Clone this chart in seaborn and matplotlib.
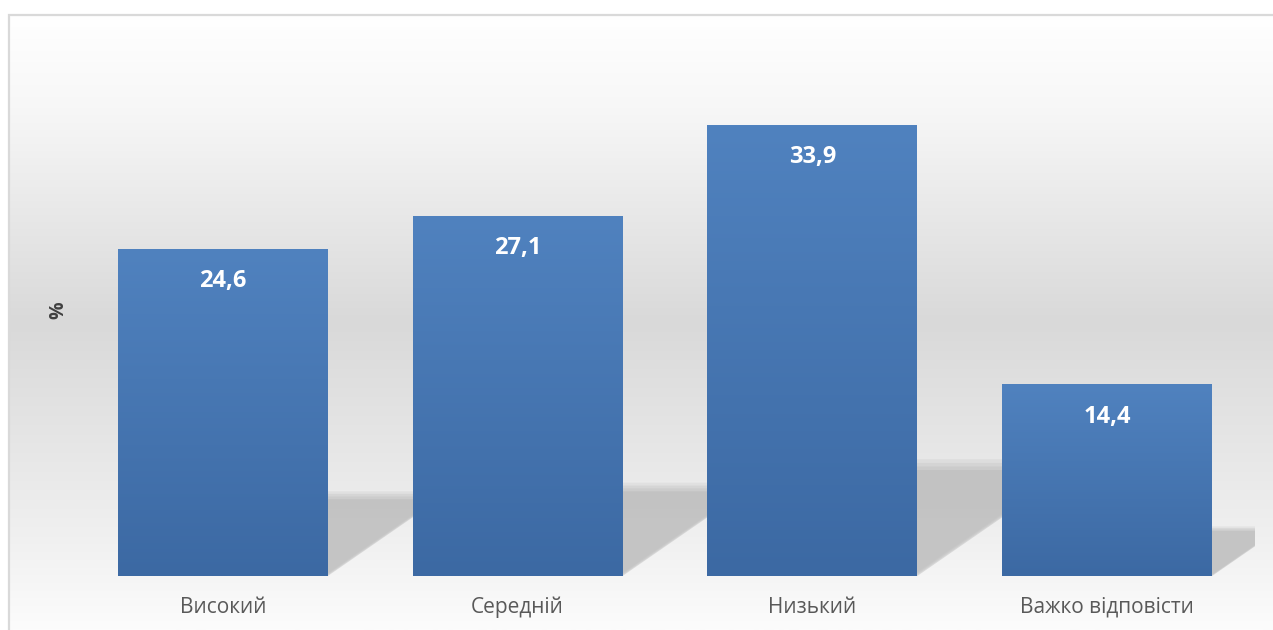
import numpy as np
import matplotlib
matplotlib.use("Agg")
import matplotlib.pyplot as plt
import seaborn as sns
from matplotlib.colors import LinearSegmentedColormap
from matplotlib.patches import Polygon, Rectangle

categories = ["Високий", "Середній", "Низький", "Важко відповісти"]
values = [24.6, 27.1, 33.9, 14.4]
value_labels = ["24,6", "27,1", "33,9", "14,4"]
y_label = "%"

sns.set_theme(style="white")
plt.rcParams["font.family"] = ["Open Sans", "DejaVu Sans"]

W, H = 1273, 630
fig = plt.figure(figsize=(W / 100, H / 100), dpi=100)
fig.patch.set_facecolor("white")

# chart-area background gradient
bg = fig.add_axes([9 / W, 0, 1 - 9 / W, (H - 15) / H], zorder=0)
bg_cmap = LinearSegmentedColormap.from_list(
    "bg", [(0, "#ffffff"), (0.15, "#f7f7f7"), (0.5, "#d9d9d9"), (0.85, "#f0f0f0"), (1, "#fcfcfc")])
bg.imshow(np.linspace(0, 1, 256).reshape(-1, 1), cmap=bg_cmap, aspect="auto",
          extent=[0, 1, 0, 1], origin="upper")
bg.set_axis_off()
# border
fig.patches.append(Rectangle((9 / W, -0.1), 1.2, (H - 15) / H + 0.1, transform=fig.transFigure,
                             fill=False, edgecolor="#d9d9d9", linewidth=1.6, zorder=1))

ax = fig.add_axes([75.5 / W, 54 / H, 1179 / W, 532 / H], zorder=2)
ax.patch.set_alpha(0)

sns.barplot(x=categories, y=values, width=0.712, color="#4f81bd", saturation=1,
            ax=ax, zorder=3, edgecolor="none", linewidth=0)

ymax = 40
bar_cmap = LinearSegmentedColormap.from_list("bar", ["#3c69a3", "#5082bf"])
px_per_x = 1179 / 4
px_per_y = 532 / ymax
for p, v in zip(ax.patches, values):
    x0, w, h = p.get_x(), p.get_width(), p.get_height()
    # floor shadow (parallelogram cast back-right), layered for soft edge
    dy = 0.235 * h
    dx = 0.34 * h * px_per_y / px_per_x
    for k, a in enumerate([0.2, 0.25, 0.3, 0.45]):
        g = (3 - k) * 0.008 * h
        gx = g * px_per_y / px_per_x
        poly = Polygon([(x0 + w * 0.5, 0), (x0 + w - gx * 0.5, 0), (x0 + w + dx + gx, dy + g),
                        (x0 + dx, dy + g)], closed=True, facecolor="#b8b8b8",
                       edgecolor="none", alpha=a, zorder=2)
        ax.add_patch(poly)
    grad = np.linspace(1, 0, 256).reshape(-1, 1)
    im = ax.imshow(grad, cmap=bar_cmap, aspect="auto", extent=[x0, x0 + w, 0, h],
                   origin="upper", zorder=4)
    im.set_clip_path(p)

for i, (v, lab) in enumerate(zip(values, value_labels)):
    ax.annotate(lab, (i, v), xytext=(0, -27.5), textcoords="offset points",
                ha="center", va="baseline", color="white", fontsize=17,
                fontweight="bold", zorder=6)

ax.set_xlim(-0.5, 3.5)
ax.set_ylim(0, ymax)
ax.set_yticks([])
ax.set_xlabel("")
ax.set_ylabel(y_label, fontsize=14, color="#404040", fontweight="bold")
ax.yaxis.set_label_coords(-0.006, 0.5)
ax.tick_params(axis="x", length=0, pad=15, labelsize=15, labelcolor="#595959")
for s in ax.spines.values():
    s.set_visible(False)

fig.savefig("out.png", dpi=100)
